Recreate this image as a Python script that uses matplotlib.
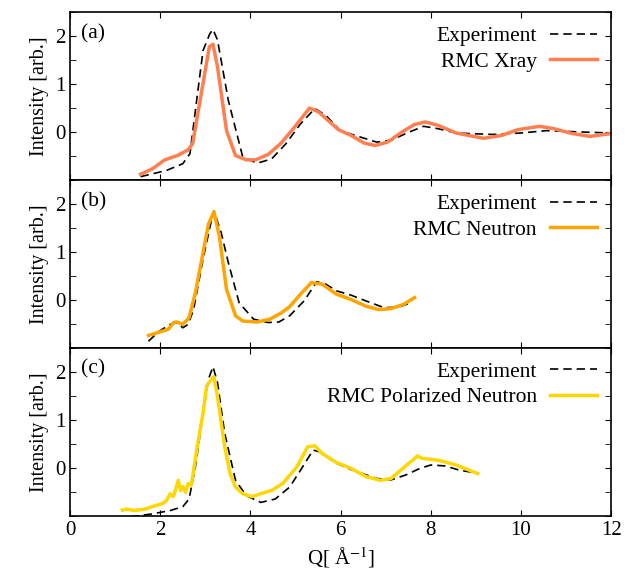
import matplotlib
matplotlib.use('Agg')
import matplotlib.pyplot as plt
from matplotlib.ticker import MultipleLocator

plt.rcParams['font.family'] = ['Liberation Serif', 'DejaVu Serif']
plt.rcParams['mathtext.fontset'] = 'stix'
plt.rcParams['font.size'] = 15

# (a) X-ray
xa_exp = [1.565, 2.14, 2.50, 2.66, 2.80, 2.95, 3.10, 3.17, 3.27, 3.51, 3.83, 4.15, 4.47, 4.79,
          5.11, 5.43, 5.67, 5.99, 6.32, 6.80, 7.12, 7.52, 7.84, 8.16, 8.56, 9.37, 10.0, 10.57,
          11.37, 12.0]
ya_exp = [-0.93, -0.80, -0.66, -0.45, 0.60, 1.70, 2.05, 2.14, 1.92, 0.66, -0.52, -0.65, -0.56, -0.24,
          0.17, 0.49, 0.35, 0.03, -0.07, -0.21, -0.17, 0.0, 0.12, 0.07, -0.02, -0.05, -0.02, 0.03,
          0.0, -0.02]
xa_rmc = [1.565, 1.82, 2.10, 2.38, 2.62, 2.72, 2.91, 3.09, 3.17, 3.27, 3.47, 3.67, 3.91, 4.11,
          4.39, 4.67, 4.95, 5.31, 5.51, 5.95, 6.23, 6.52, 6.76, 7.04, 7.36, 7.64, 7.88, 8.16,
          8.56, 9.17, 9.57, 9.93, 10.41, 10.73, 11.13, 11.53, 12.0]
ya_rmc = [-0.88, -0.77, -0.58, -0.49, -0.37, -0.24, 0.80, 1.78, 1.83, 1.36, 0.03, -0.49, -0.58, -0.58,
          -0.47, -0.24, 0.07, 0.50, 0.42, 0.05, -0.07, -0.23, -0.28, -0.21, 0.0, 0.16, 0.21, 0.14,
          -0.02, -0.13, -0.07, 0.05, 0.12, 0.07, -0.03, -0.09, -0.03]

# (b) Neutron
xb_exp = [1.74, 1.98, 2.22, 2.38, 2.50, 2.62, 2.74, 2.95, 3.11, 3.19, 3.35, 3.51, 3.75, 4.07,
          4.39, 4.63, 4.87, 5.19, 5.47, 5.67, 5.91, 6.23, 6.56, 6.96, 7.28, 7.56]
yb_exp = [-0.86, -0.65, -0.51, -0.47, -0.58, -0.51, -0.20, 0.85, 1.55, 1.86, 1.41, 0.78, -0.06, -0.40,
          -0.47, -0.46, -0.33, -0.02, 0.38, 0.33, 0.19, 0.10, -0.02, -0.16, -0.15, -0.06]
xb_rmc = [1.74, 1.98, 2.18, 2.30, 2.38, 2.50, 2.64, 2.78, 2.95, 3.07, 3.19, 3.31, 3.47, 3.67,
          3.83, 4.15, 4.43, 4.67, 4.87, 5.11, 5.35, 5.59, 5.91, 6.23, 6.56, 6.84, 7.12, 7.40, 7.64]
yb_rmc = [-0.74, -0.67, -0.61, -0.47, -0.46, -0.51, -0.37, 0.15, 0.99, 1.58, 1.84, 1.34, 0.22, -0.33,
          -0.44, -0.46, -0.40, -0.28, -0.14, 0.12, 0.36, 0.33, 0.12, 0.01, -0.13, -0.20, -0.18, -0.09, 0.05]

# (c) Polarized neutron
xc_exp = [1.34, 1.82, 2.22, 2.50, 2.64, 2.78, 2.95, 3.07, 3.17, 3.27, 3.43, 3.67, 3.91, 4.23,
          4.55, 4.87, 5.11, 5.39, 5.59, 5.83, 6.16, 6.48, 6.80, 7.12, 7.44, 7.76, 8.00, 8.32,
          8.64, 9.04]
yc_exp = [-1.02, -0.96, -0.89, -0.81, -0.65, 0.02, 1.14, 1.85, 2.11, 1.78, 0.72, -0.26, -0.58, -0.72,
          -0.65, -0.40, -0.05, 0.37, 0.32, 0.13, -0.01, -0.12, -0.22, -0.25, -0.15, -0.01, 0.06, 0.04,
          -0.05, -0.11]
xc_rmc = [1.16, 1.26, 1.42, 1.66, 1.82, 2.06, 2.14, 2.22, 2.29, 2.34, 2.40, 2.45, 2.50, 2.56,
          2.62, 2.69, 2.82, 2.95, 3.03, 3.11, 3.19, 3.27, 3.43, 3.55, 3.67, 3.83, 4.03, 4.23,
          4.47, 4.71, 5.03, 5.27, 5.43, 5.59, 5.91, 6.23, 6.56, 6.88, 7.12, 7.44, 7.60, 7.70,
          7.80, 8.16, 8.56, 9.04]
yc_rmc = [-0.88, -0.86, -0.89, -0.86, -0.81, -0.74, -0.68, -0.54, -0.60, -0.46, -0.26, -0.47, -0.39, -0.51,
          -0.33, -0.36, 0.44, 1.14, 1.71, 1.81, 1.90, 1.49, 0.44, -0.12, -0.40, -0.54, -0.60, -0.54,
          -0.47, -0.33, 0.02, 0.44, 0.46, 0.30, 0.11, -0.01, -0.18, -0.26, -0.22, 0.04, 0.16, 0.25,
          0.20, 0.16, 0.06, -0.12]

panels = [
    ('(a)', xa_exp, ya_exp, xa_rmc, ya_rmc, 'RMC Xray', '#ff7f50'),
    ('(b)', xb_exp, yb_exp, xb_rmc, yb_rmc, 'RMC Neutron', '#ffa500'),
    ('(c)', xc_exp, yc_exp, xc_rmc, yc_rmc, 'RMC Polarized Neutron', '#ffd700'),
]

fig, axes = plt.subplots(3, 1, figsize=(6.25, 5.77), dpi=100, sharex=True)
fig.subplots_adjust(left=0.112, right=0.978, bottom=0.106, top=0.979, hspace=0)

for ax, (tag, xe, ye, xr, yr, name, col) in zip(axes, panels):
    ax.plot(xe, ye, 'k--', lw=1.2, dashes=(5, 3), label='Experiment')
    ax.plot(xr, yr, color=col, lw=2.5, label=name)
    ax.set_xlim(0, 12)
    ax.set_ylim(-1, 2.5)
    ax.set_yticks([0, 1, 2])
    ax.yaxis.set_minor_locator(MultipleLocator(0.5))
    ax.xaxis.set_major_locator(MultipleLocator(2))
    ax.tick_params(direction='in', top=True, right=True, which='both', labelsize=15)
    ax.tick_params(which='major', length=4)
    ax.tick_params(which='minor', length=4, top=False, bottom=False)
    ax.set_ylabel('Intensity [arb.]', fontsize=14.5)
    ax.text(0.02, 0.93, tag, transform=ax.transAxes, fontsize=15.5, va='top')
    ax.legend(loc='upper right', frameon=False, markerfirst=False, fontsize=15.5,
              handlelength=2.2, handletextpad=0.6, borderaxespad=0.25, labelspacing=0.25)
    for s in ax.spines.values():
        s.set_linewidth(1.2)

axes[-1].set_xlabel('Q[ Å$^{-1}$]', fontsize=15)

fig.savefig('out.png', dpi=100)
